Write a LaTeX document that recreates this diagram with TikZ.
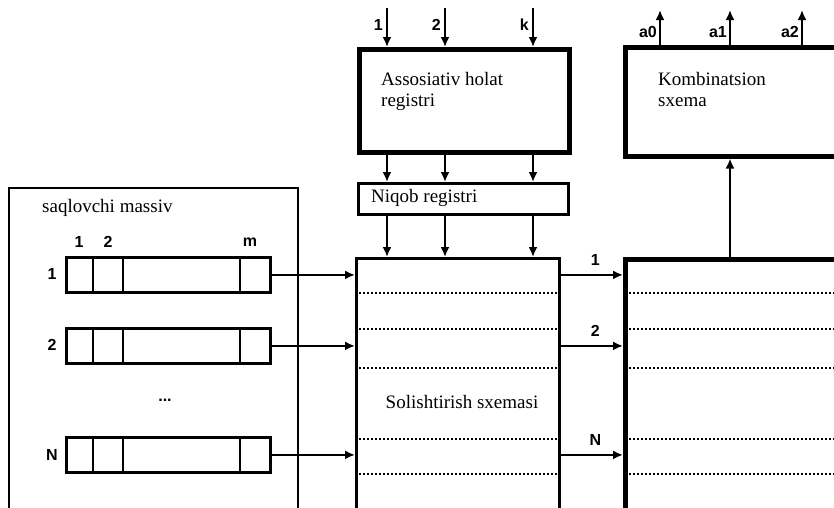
\documentclass[tikz,border=0pt]{standalone}
\usepackage{fontspec}
\setmainfont{Liberation Serif}
\newfontfamily\lblfont{Liberation Sans}
\usetikzlibrary{arrows.meta,positioning,calc}

\tikzset{
  blk/.style={draw,line width=3pt,anchor=north west,inner sep=0pt},
  heavyblk/.style={blk,line width=4.5pt},
  cellrow/.style={draw,line width=2.8pt,anchor=north west,minimum width=204pt,minimum height=35pt,inner sep=0pt},
  dotline/.style={line width=2.2pt,dash pattern=on 2pt off 2pt},
  sig/.style={-{Latex[length=10pt,width=9pt]},line width=2.4pt},
  numlbl/.style={font=\lblfont\bfseries\fontsize{16}{16}\selectfont,inner sep=1pt},
  txt/.style={font=\fontsize{19}{21}\selectfont,align=left,inner sep=0pt}
}

\begin{document}
\begin{tikzpicture}[x=1pt,y=-1pt]
\useasboundingbox (0,0) rectangle (834,507);
\clip (0,0) rectangle (834,507);

% saqlovchi massiv
\node[blk,line width=2.2pt,minimum width=289pt,minimum height=340pt] (storage) at (8,187) {};
\node[txt,anchor=west] (storlbl) at (42,208) {saqlovchi massiv};
\node[cellrow] (row1) at (65,256) {};
\node[cellrow] (row2) at (65,327) {};
\node[cellrow] (rowN) at (65,436) {};
\foreach \r in {row1,row2,rowN}
  \foreach \d in {28,58,175}
    \draw[line width=2.8pt] ([xshift=\d pt]\r.north west) -- ([xshift=\d pt]\r.south west);
\node[numlbl] (col1) at (79,242) {1};
\node[numlbl] (col2) at (108,242) {2};
\node[numlbl] (colm) at (250,242) {m};
\node[numlbl] (lbl1) at (52,274) {1};
\node[numlbl] (lbl2) at (52,345) {2};
\node[numlbl] (lblN) at (52,455) {N};
\node[numlbl] (rowdots) at (165,400) {...};

% registrlar
\node[heavyblk,minimum width=210pt,minimum height=103pt] (assoc) at (357,47) {};
\node[txt,anchor=north west] (assoclbl) at (381,72) {Assosiativ holat\\registri};
\node[blk,minimum width=210pt,minimum height=31pt] (niqob) at (357,182) {};
\node[txt,anchor=west] (niqoblbl) at (371,198) {Niqob registri};

% solishtirish sxemasi
\node[blk,line width=3.4pt,minimum width=203pt,minimum height=280pt] (solisht) at (355,257) {};
\node[txt] (solishtlbl) at (462,402) {Solishtirish sxemasi};
\foreach \y in {293,329,368,439,474}
  \draw[dotline] ([xshift=4pt]solisht.west |- 0,\y) -- ([xshift=-4pt]solisht.east |- 0,\y);

% natija registri va kombinatsion sxema
\node[heavyblk,minimum width=240pt,minimum height=280pt] (outreg) at (623,257) {};
\foreach \y in {293,329,368,439,474}
  \draw[dotline] ([xshift=6pt]outreg.west |- 0,\y) -- (outreg.east |- 0,\y);
\node[heavyblk,minimum width=240pt,minimum height=109pt] (komb) at (623,45) {};
\node[txt,anchor=north west] (komblbl) at (658,72) {Kombinatsion\\sxema};

% kirishlar
\foreach \x/\t [count=\i] in {387/1,445/2,533/k} {
  \coordinate (in\i) at (\x,8);
  \draw[sig] (in\i) -- (in\i |- assoc.north);
  \node[numlbl,left=3pt of in\i,yshift=-17pt] (inlbl\i) {\t};
  \draw[sig] (assoc.south -| in\i) -- (niqob.north -| in\i);
  \draw[sig] (niqob.south -| in\i) -- (solisht.north -| in\i);
}

% chiqishlar
\foreach \x/\t [count=\i] in {660/a0,730/a1,802/a2} {
  \coordinate (out\i) at (\x,10);
  \draw[sig] (komb.north -| out\i) -- (out\i);
  \node[numlbl,left=2pt of out\i,yshift=-22pt] (outlbl\i) {\t};
}
\draw[sig] (outreg.north -| out2) -- (komb.south -| out2);

% qatorlar
\foreach \r/\t in {row1/1,row2/2,rowN/N} {
  \draw[sig] (\r.east) -- (\r.east -| solisht.west);
  \draw[sig] (solisht.east |- \r.east) -- (outreg.west |- \r.east);
  \coordinate (mid\t) at ($(solisht.east |- \r.east)!0.55!(outreg.west |- \r.east)$);
  \node[numlbl,above=8pt of mid\t] (outno\t) {\t};
}
\end{tikzpicture}
\end{document}
